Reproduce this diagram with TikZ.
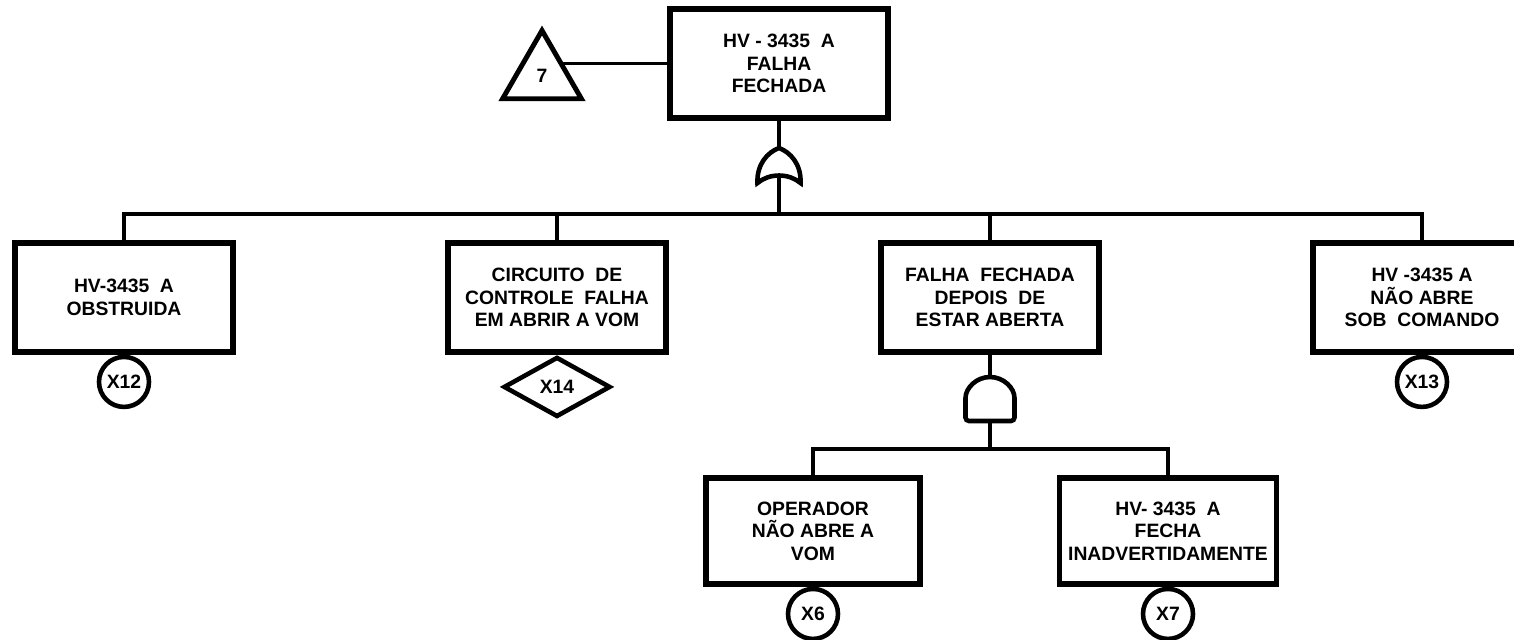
\documentclass[tikz,border=0pt]{standalone}
\usepackage{fontspec}
\setmainfont{Liberation Sans}
\usepackage{tikz}
\usetikzlibrary{positioning,calc,shapes.geometric}
\tikzset{
    evento/.style={draw, line width=3pt, minimum width=4.36cm, minimum height=2.18cm,
                   align=center, inner sep=2pt, font=\bfseries\fontsize{11}{12.8}\selectfont},
    basico/.style={draw, circle, line width=2.6pt, minimum size=1.0cm, inner sep=0pt,
                   font=\bfseries\fontsize{11}{12}\selectfont},
    naodes/.style={draw, diamond, aspect=1.8, line width=2.6pt, minimum width=2.14cm,
                   minimum height=1.2cm, inner sep=0pt, font=\bfseries\fontsize{11}{12}\selectfont},
    transf/.style={draw, regular polygon, regular polygon sides=3, line width=2.8pt,
                   minimum size=1.82cm, inner sep=0pt, font=\bfseries\fontsize{11}{12}\selectfont},
    linha/.style={line width=2pt},
    porta/.style={line width=2.6pt},
    % OU gate
    portaou/.pic={
        \draw[porta] (-0.43,0) .. controls (-0.45,0.38) and (-0.22,0.62) .. (0,0.70)
            .. controls (0.22,0.62) and (0.45,0.38) .. (0.43,0)
            .. controls (0.2,0.2) and (-0.2,0.2) .. cycle;
        \coordinate (-in) at (0,0.70);
        \coordinate (-out) at (0,0.15);
    },
    % E gate
    portae/.pic={
        \draw[porta, rounded corners=2pt] (0,0) -- (-0.49,0) -- (-0.49,0.39)
            arc[start angle=180, end angle=0, radius=0.49] -- (0.49,0) -- cycle;
        \coordinate (-in) at (0,0.88);
        \coordinate (-out) at (0,0);
    },
}

\begin{document}
\begin{tikzpicture}
    \path[use as bounding box, fill=white] (0,0) rectangle (30.28,-12.78);

    % Top event
    \node[evento] (topo) at (15.58,-1.27) {HV - 3435 \ A\\FALHA\\FECHADA};
    \node[transf] (t7) at (10.84,-1.52) {7};
    \coordinate (t7r) at ($(t7.corner 1)!0.48!(t7.corner 3)$);
    \pic (ou1) at (15.58,-3.66) {portaou};
    \coordinate (barra1) at (15.58,-4.28);

    % Second level
    \node[evento] (ev1) at (2.48,-5.95) {HV-3435 \ A\\OBSTRUIDA};
    \node[evento] (ev2) at (11.14,-5.95) {CIRCUITO \ DE\\CONTROLE \ FALHA\\EM ABRIR A VOM};
    \node[evento] (ev3) at (19.8,-5.95) {FALHA \ FECHADA\\DEPOIS \ DE\\ESTAR ABERTA};
    \node[evento] (ev4) at (28.44,-5.95) {HV -3435 A\\NÃO ABRE\\SOB \ COMANDO};
    \node[basico, below=0pt of ev1] (x12) {X12};
    \node[naodes, below=0pt of ev2] (x14) {X14};
    \node[basico, below=0pt of ev4] (x13) {X13};
    \pic (e1) at (19.8,-8.42) {portae};
    \coordinate (barra2) at (19.8,-8.98);

    % Third level
    \node[evento, minimum width=4.28cm, minimum height=2.12cm] (ev5) at (16.26,-10.62) {OPERADOR\\NÃO ABRE A\\VOM};
    \node[evento, minimum width=4.34cm, minimum height=2.12cm] (ev6) at (23.36,-10.62) {HV- 3435 \ A\\FECHA\\INADVERTIDAMENTE};
    \node[basico, below=0pt of ev5] (x6) {X6};
    \node[basico, below=0pt of ev6] (x7) {X7};

    % Connections
    \draw[linha] (t7r |- topo.west) -- (topo.west);
    \draw[linha] (topo.south) -- (ou1-in);
    \draw[linha] (ou1-out) -- (barra1);
    \draw[linha] (ev1.north) |- (barra1) -| (ev4.north);
    \foreach \n in {ev2,ev3} \draw[linha] (\n.north) -- (\n.north |- barra1);
    \draw[linha] (ev3.south) -- (e1-in);
    \draw[linha] (e1-out) -- (barra2);
    \draw[linha] (ev5.north) |- (barra2) -| (ev6.north);
\end{tikzpicture}
\end{document}
